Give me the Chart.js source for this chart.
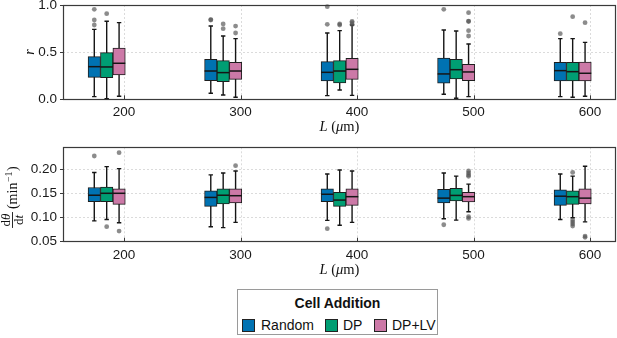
<!DOCTYPE html>
<html><head><meta charset="utf-8">
<script src="https://cdn.jsdelivr.net/npm/chart.js@4/dist/chart.umd.min.js"></script>
<style>
html,body{margin:0;padding:0;background:#fff;}
body{width:617px;height:338px;position:relative;overflow:hidden;font-family:"Liberation Sans",Arial,sans-serif;color:#111;}
.cv{position:absolute;left:0;}
#legend{position:absolute;left:237px;top:289px;width:201px;height:46px;border:1px solid #9a9a9a;box-sizing:border-box;}
#legend .t{position:absolute;left:0;width:100%;top:5px;text-align:center;font-weight:bold;font-size:14px;line-height:16px;}
#legend .sw{position:absolute;top:29px;width:13px;height:13px;border:1px solid #222;box-sizing:border-box;}
#legend .lb{position:absolute;top:27px;font-size:14px;line-height:16px;}
</style></head>
<body>
<canvas id="cTop" class="cv" width="617" height="160" style="top:-20px"></canvas>
<canvas id="cBot" class="cv" width="617" height="160" style="top:127px"></canvas>
<div id="legend"></div>
<script>
// ---------------- data ----------------
const xTicks = [200, 300, 400, 500, 600];
const lengths = [200, 300, 400, 500, 600];
const seriesNames = ['Random', 'DP', 'DP+LV'];
const seriesColors = ['#0072B2', '#009E73', '#CC79A7'];

// r : [lower whisker, Q1, median, Q3, upper whisker] per length
const rRandom = [[0.028,0.233,0.346,0.452,0.742],[0.064,0.198,0.300,0.424,0.777],[0.039,0.194,0.286,0.399,0.703],[0.053,0.170,0.269,0.438,0.735],[0.028,0.194,0.304,0.392,0.643]];
const rDP     = [[0.007,0.230,0.343,0.495,0.827],[0.046,0.187,0.283,0.410,0.671],[0.099,0.173,0.300,0.410,0.728],[0.011,0.216,0.314,0.424,0.724],[0.021,0.194,0.293,0.392,0.643]];
const rDPLV   = [[0.032,0.258,0.382,0.544,0.813],[0.021,0.212,0.300,0.392,0.643],[0.042,0.212,0.318,0.435,0.788],[0.028,0.198,0.290,0.371,0.587],[0.032,0.194,0.276,0.396,0.604]];
const rRandomOut = [[0.954,0.841,0.788],[0.841,0.845],[0.982,0.795],[0.954],[0.696]];
const rDPOut     = [[0.908],[0.799,0.749],[0.799,0.788],[],[0.876]];
const rDPLVOut   = [[],[0.777,0.703],[0.827,0.813,0.792],[0.919,0.830,0.825,0.728,0.671],[0.813]];

// dtheta/dt (min^-1)
const wRandom = [[0.093,0.1325,0.146,0.162,0.193],[0.081,0.123,0.1415,0.155,0.188],[0.094,0.1325,0.148,0.159,0.190],[0.0975,0.130,0.140,0.158,0.192],[0.096,0.125,0.144,0.157,0.190]];
const wDP     = [[0.096,0.1325,0.150,0.163,0.205],[0.079,0.128,0.146,0.159,0.192],[0.084,0.123,0.136,0.152,0.198],[0.0945,0.134,0.1456,0.160,0.1855],[0.0995,0.127,0.143,0.155,0.1855]];
const wDPLV   = [[0.089,0.127,0.150,0.159,0.201],[0.090,0.130,0.145,0.159,0.196],[0.090,0.125,0.143,0.159,0.196],[0.112,0.132,0.143,0.152,0.169],[0.091,0.128,0.140,0.159,0.206]];
const wRandomOut = [[0.227],[],[0.077],[0.085],[]];
const wDPOut     = [[0.081],[],[],[],[0.193,0.0947,0.0906,0.0864,0.0823]];
const wDPLVOut   = [[0.234,0.072],[0.207],[],[0.196,0.192,0.188,0.185,0.1016,0.098],[0.0617,0.059]];

const rTicks = [0, 0.5, 1.0];
const wTicks = [0.05, 0.10, 0.15, 0.20];

// ---------------- drawing ----------------
const TICK_FONT = {family: '"Liberation Sans", Arial, sans-serif', size: 13.5};
const X_MIN = 147.6, X_MAX = 622.3, DODGE = 14.9;
const SERIF = '"Liberation Serif", "DejaVu Serif", serif';

function drawPieces(ctx, pieces, cx, cy, size) {
  let total = 0;
  pieces.forEach(p => { ctx.font = (p[1] ? 'italic ' : '') + size + 'px ' + SERIF; p.w = ctx.measureText(p[0]).width; total += p.w; });
  let x = cx - total / 2;
  ctx.textAlign = 'left'; ctx.textBaseline = 'middle';
  pieces.forEach(p => { ctx.font = (p[1] ? 'italic ' : '') + size + 'px ' + SERIF; ctx.fillText(p[0], x, cy); x += p.w; });
}

function makeBoxPlugin(stats, outs, gridVals, titleFn) {
  return {
    id: 'boxplot',
    beforeDatasetsDraw(chart) {
      const {ctx, chartArea: a, scales} = chart;
      ctx.save();
      ctx.strokeStyle = 'rgba(0,0,0,0.14)';
      ctx.lineWidth = 1;
      ctx.setLineDash([2, 2]);
      xTicks.forEach(v => {
        const px = Math.round(scales.x.getPixelForValue(v)) + 0.5;
        ctx.beginPath(); ctx.moveTo(px, a.top); ctx.lineTo(px, a.bottom); ctx.stroke();
      });
      gridVals.forEach(v => {
        const py = Math.round(scales.y.getPixelForValue(v)) + 0.5;
        ctx.beginPath(); ctx.moveTo(a.left, py); ctx.lineTo(a.right, py); ctx.stroke();
      });
      ctx.setLineDash([]);
      // whiskers
      ctx.strokeStyle = '#151515';
      ctx.lineWidth = 1.4;
      chart.data.datasets.forEach((ds, i) => {
        const meta = chart.getDatasetMeta(i);
        meta.data.forEach((el, j) => {
          const s = stats[i][j];
          const x = el.x;
          const ylo = scales.y.getPixelForValue(s[0]);
          const yhi = scales.y.getPixelForValue(s[4]);
          ctx.beginPath(); ctx.moveTo(x, yhi); ctx.lineTo(x, ylo); ctx.stroke();
          ctx.beginPath(); ctx.moveTo(x - 2.2, yhi); ctx.lineTo(x + 2.2, yhi);
          ctx.moveTo(x - 2.2, ylo); ctx.lineTo(x + 2.2, ylo); ctx.stroke();
        });
      });
      ctx.restore();
    },
    afterDatasetsDraw(chart) {
      const {ctx, chartArea: a, scales} = chart;
      ctx.save();
      chart.data.datasets.forEach((ds, i) => {
        const meta = chart.getDatasetMeta(i);
        meta.data.forEach((el, j) => {
          const s = stats[i][j];
          const x = el.x, w = el.width;
          const ym = scales.y.getPixelForValue(s[2]);
          ctx.strokeStyle = '#151515'; ctx.lineWidth = 1.5;
          ctx.beginPath(); ctx.moveTo(x - w / 2, ym); ctx.lineTo(x + w / 2, ym); ctx.stroke();
          ctx.fillStyle = 'rgba(85,85,85,0.68)';
          outs[i][j].forEach(v => {
            const py = scales.y.getPixelForValue(v);
            ctx.beginPath(); ctx.arc(x, py, 2.4, 0, Math.PI * 2); ctx.fill();
          });
        });
      });
      // frame
      ctx.strokeStyle = '#3a3a3a'; ctx.lineWidth = 1.2;
      ctx.strokeRect(Math.round(a.left) + 0.5, Math.round(a.top) + 0.5, Math.round(a.right - a.left) - 1, Math.round(a.bottom - a.top));
      // inner x ticks
      ctx.lineWidth = 1;
      xTicks.forEach(v => {
        const px = Math.round(scales.x.getPixelForValue(v)) + 0.5;
        ctx.beginPath(); ctx.moveTo(px, a.bottom); ctx.lineTo(px, a.bottom - 4); ctx.stroke();
      });
      ctx.fillStyle = '#111';
      titleFn(ctx, chart);
      ctx.restore();
    }
  };
}

function makePanel(id, stats, outs, yMin, yMax, yTicks, decimals, padTop, axisBottom, titleFn) {
  const H = 160;
  const datasets = stats.map((st, i) => ({
    label: seriesNames[i],
    data: st.map((s, j) => ({x: lengths[j], y: [s[1], s[3]]})),
    backgroundColor: seriesColors[i],
    borderColor: '#1e1e1e',
    borderWidth: 1,
    borderSkipped: false,
    barThickness: 12.4,
    xAxisID: 'xb',
    yAxisID: 'y'
  }));
  const gridVals = yTicks.filter(v => v > yMin + 1e-9 && v < yMax - 1e-9);
  return new Chart(document.getElementById(id), {
    type: 'bar',
    data: {datasets},
    options: {
      responsive: false,
      animation: false,
      events: [],
      layout: {padding: {top: padTop, left: 0, right: 1, bottom: 0}},
      plugins: {legend: {display: false}, tooltip: {enabled: false}},
      scales: {
        x: {
          type: 'linear', position: 'bottom', min: X_MIN, max: X_MAX, offset: false,
          afterBuildTicks: s => { s.ticks = xTicks.map(v => ({value: v})); },
          afterFit: s => { s.height = H - axisBottom; },
          grid: {drawOnChartArea: false, drawTicks: false, offset: false},
          border: {display: false},
          ticks: {font: TICK_FONT, color: '#1a1a1a', padding: 5, maxRotation: 0, autoSkip: false,
                  callback: v => String(v)}
        },
        xb: {
          type: 'linear', display: false, position: 'bottom', offset: false,
          grid: {offset: false},
          min: X_MIN + DODGE, max: X_MAX + DODGE
        },
        y: {
          type: 'linear', min: yMin, max: yMax,
          afterBuildTicks: s => { s.ticks = yTicks.map(v => ({value: v})); },
          afterFit: s => { s.width = 63; },
          grid: {drawOnChartArea: false, drawTicks: true, tickLength: 3, tickColor: '#3a3a3a', tickWidth: 1},
          border: {display: false},
          ticks: {font: TICK_FONT, color: '#1a1a1a', padding: 3, autoSkip: false,
                  callback: v => Number(v).toFixed(decimals)}
        }
      }
    },
    plugins: [makeBoxPlugin(stats, outs, gridVals, titleFn)]
  });
}

function xTitle(ctx, chart) {
  const a = chart.chartArea;
  ctx.fillStyle = '#111';
  drawPieces(ctx, [['L', true], [' (', false], ['\u03BC', true], ['m)', false]], (a.left + a.right) / 2, a.bottom + 28, 14.5);
}

makePanel('cTop', [rRandom, rDP, rDPLV], [rRandomOut, rDPOut, rDPLVOut], 0, 1, rTicks, 1, 25, 119.3,
  (ctx, chart) => {
    xTitle(ctx, chart);
    const a = chart.chartArea;
    ctx.save();
    ctx.translate(30, (a.top + a.bottom) / 2);
    ctx.rotate(-Math.PI / 2);
    ctx.font = 'italic 14px ' + SERIF;
    ctx.textAlign = 'center'; ctx.textBaseline = 'middle';
    ctx.fillText('r', 0, 0);
    ctx.restore();
  });

makePanel('cBot', [wRandom, wDP, wDPLV], [wRandomOut, wDPOut, wDPLVOut], 0.05, 0.245, wTicks, 2, 20.3, 114.7,
  (ctx, chart) => {
    xTitle(ctx, chart);
    // y title: d(theta)/dt (min^-1), rotated
    const pageOffset = 127;
    ctx.save();
    ctx.translate(12, 220 - pageOffset);
    ctx.rotate(-Math.PI / 2);
    const f = SERIF;
    const fs = 13;
    ctx.fillStyle = '#111';
    ctx.textBaseline = 'alphabetic';
    ctx.font = fs + 'px ' + f;
    const wd = ctx.measureText('d').width;
    ctx.font = 'italic ' + fs + 'px ' + f;
    const wth = ctx.measureText('\u03B8').width;
    const wt = ctx.measureText('t').width;
    const num = wd + wth, den = wd + wt;
    const barW = Math.max(num, den) + 3;
    ctx.textAlign = 'left';
    ctx.font = fs + 'px ' + f;
    ctx.fillText('d', -num / 2, -2.5);
    ctx.font = 'italic ' + fs + 'px ' + f;
    ctx.fillText('\u03B8', -num / 2 + wd, -2.5);
    ctx.font = fs + 'px ' + f;
    ctx.fillText('d', -den / 2, 11);
    ctx.font = 'italic ' + fs + 'px ' + f;
    ctx.fillText('t', -den / 2 + wd, 11);
    ctx.strokeStyle = '#111'; ctx.lineWidth = 0.9;
    ctx.beginPath(); ctx.moveTo(-barW / 2, 0.5); ctx.lineTo(barW / 2, 0.5); ctx.stroke();
    // (min^-1)
    let x = barW / 2 + 3;
    const y = 5;
    ctx.font = '14px ' + f;
    ctx.fillText('(min', x, y); x += ctx.measureText('(min').width;
    ctx.font = '10px ' + f;
    ctx.fillText('\u22121', x + 0.5, y - 5.5); x += ctx.measureText('\u22121').width + 1;
    ctx.font = '14px ' + f;
    ctx.fillText(')', x, y);
    ctx.restore();
  });

// legend (HTML, real text)
const legend = document.getElementById('legend');
legend.innerHTML = '<div class="t">Cell Addition</div>';
const swLeft = [4, 87, 136];
const lbLeft = [23, 105, 154];
seriesNames.forEach((n, i) => {
  const sw = document.createElement('div'); sw.className = 'sw';
  sw.style.left = swLeft[i] + 'px'; sw.style.background = seriesColors[i];
  const lb = document.createElement('div'); lb.className = 'lb';
  lb.style.left = lbLeft[i] + 'px'; lb.textContent = n;
  legend.appendChild(sw); legend.appendChild(lb);
});
</script>
</body></html>
